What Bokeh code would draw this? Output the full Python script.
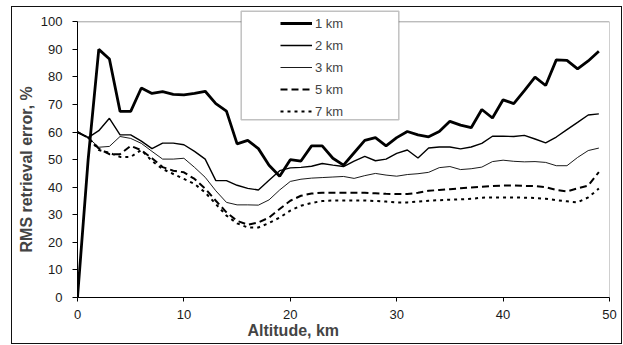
from bokeh.plotting import figure
from bokeh.models import Legend, LegendItem, BoxAnnotation, Title, FixedTicker, Range1d
from bokeh.embed import file_html
from bokeh.resources import INLINE

altitude = list(range(50))
km1 = [0, 50, 90, 86.5, 67.5, 67.5, 76, 74, 74.7, 73.7,
       73.5, 74, 74.8, 70.3, 67.6, 55.7, 57, 54, 48, 44,
       50, 49.5, 55, 55, 50.5, 48, 52.5, 57, 58, 55,
       58, 60.2, 59, 58.3, 60.2, 63.9, 62.5, 61.6, 68.2, 65.1,
       71.7, 70.3, 75, 79.9, 76.9, 86.2, 86, 82.9, 85.8, 89.3]
km2 = [60, 58, 60.5, 65, 59, 59, 56.7, 54, 56, 56,
       55.4, 53, 50.2, 42.4, 42.4, 40.7, 39.6, 39, 42.5, 46,
       47, 47.2, 47.6, 48.6, 48, 47.5, 49.5, 51.2, 49.6, 50.2,
       52.3, 53.5, 50.6, 54.2, 54.6, 54.6, 53.9, 54.6, 55.9, 58.5,
       58.5, 58.4, 58.8, 57.5, 56.1, 58.2, 60.9, 63.5, 66.2, 66.6]
km3 = [60, 58, 54.5, 54.8, 58.4, 57.7, 55.9, 53, 50.2, 50.2,
       50.5, 47.2, 43.6, 38.7, 34.5, 33.6, 33.6, 33.5, 35.4, 39,
       42.1, 42.9, 43.3, 43.5, 43.7, 43.9, 43.2, 44.2, 45, 44.4,
       44, 44.6, 44.9, 45.4, 47.1, 47.5, 46.4, 46.7, 47.3, 49.3,
       49.8, 49.4, 49.2, 49.3, 49, 47.8, 47.8, 50.8, 53.3, 54.2]
km5 = [60, 58, 54, 52, 52, 55, 53.4, 50.5, 47.3, 46,
       45.4, 43, 39.5, 35.1, 30.9, 27.8, 26.4, 27.2, 29, 32.1,
       35.1, 36.9, 37.7, 38, 38, 38, 38, 38, 37.8, 37.6,
       37.5, 37.5, 38, 38.7, 39, 39.3, 39.6, 39.9, 40.2, 40.4,
       40.6, 40.6, 40.5, 40.4, 40, 39, 38.5, 39.6, 40.6, 45.5]
km7 = [60, 58, 53.5, 52.5, 51, 51, 53.5, 49.5, 46.6, 44.8,
       43, 41.2, 38.1, 33.9, 29.7, 26.9, 25.4, 25.4, 27, 29,
       31.5, 33.3, 34.3, 35, 35.2, 35.2, 35.2, 35.2, 35, 34.8,
       34.5, 34.5, 34.8, 35.1, 35.3, 35.5, 35.6, 35.8, 36.2, 36.3,
       36.3, 36.3, 36.2, 36.1, 35.8, 35.3, 34.9, 34.5, 36.3, 39.5]
series_labels = ["1 km", "2 km", "3 km", "5 km", "7 km"]
x_ticks = [0, 10, 20, 30, 40, 50]
y_ticks = [0, 10, 20, 30, 40, 50, 60, 70, 80, 90, 100]
x_title = "Altitude, km"
y_title = "RMS retrieval error, %"

FONT = "Liberation Sans"
Y_TOP = y_ticks[-1] * 289 / 275.7   # frame reaches above 100 so the legend box fits

p = figure(width=609, height=336, output_backend="svg", toolbar_location=None,
           x_range=Range1d(x_ticks[0], x_ticks[-1]), y_range=Range1d(y_ticks[0], Y_TOP),
           min_border_left=65, min_border_right=12, min_border_top=1, min_border_bottom=46,
           margin=(7, 2, 2, 12),
           styles={"outline": "1.5px solid #111111", "outline-offset": "0px"})
p.background_fill_color = "white"
p.border_fill_color = "white"
p.outline_line_color = None
p.xgrid.visible = False
p.ygrid.visible = False

for ax, ticks in ((p.xaxis, x_ticks), (p.yaxis, y_ticks)):
    ax.ticker = FixedTicker(ticks=ticks)
    ax.bounds = (ticks[0], ticks[-1])
    ax.minor_tick_line_color = None
    ax.major_tick_in = 0
    ax.axis_line_color = "black"
    ax.major_tick_line_color = "black"
    ax.major_label_text_font = FONT
    ax.major_label_text_font_size = "13px"
    ax.major_label_text_color = "#1a1a1a"
p.xaxis.major_tick_out = 4
p.yaxis.major_tick_out = 5
p.xaxis.major_label_standoff = 8
p.yaxis.major_label_standoff = 10

# gray plot-area border (top and right)
p.segment(x0=[x_ticks[0], x_ticks[-1]], y0=[y_ticks[-1], y_ticks[0]],
          x1=[x_ticks[-1], x_ticks[-1]], y1=[y_ticks[-1], y_ticks[-1]],
          line_color="#a0a0a0", line_width=1)

styles = [
    (km1, dict(line_width=2.8, line_color="black")),
    (km2, dict(line_width=1.4, line_color="black")),
    (km3, dict(line_width=0.9, line_color="black")),
    (km5, dict(line_width=2, line_color="black", line_dash="7 4")),
    (km7, dict(line_width=2, line_color="black", line_dash="3 4")),
]
renderers = []
for vals, st in styles:
    renderers.append(p.line(altitude, vals, **st))

# legend frame
box = BoxAnnotation(left=163.7, right=321.3, bottom=177.7, top=286.3,
                    left_units="screen", right_units="screen",
                    bottom_units="screen", top_units="screen",
                    fill_color="white", fill_alpha=1,
                    line_color="#333333", line_width=1.5, level="annotation")
p.add_layout(box)

legend = Legend(items=[LegendItem(label=lab, renderers=[r]) for lab, r in zip(series_labels, renderers)],
                location=(203, 176.7), padding=0, spacing=4,
                glyph_width=32, glyph_height=18, label_height=18, label_standoff=3,
                label_text_font=FONT, label_text_font_size="13px",
                border_line_alpha=0, background_fill_alpha=0)
p.add_layout(legend)

p.add_layout(Title(text=x_title, align="left", offset=170, vertical_align="top", standoff=0,
                   text_font=FONT, text_font_size="16px", text_font_style="bold"), "below")
p.add_layout(Title(text=y_title, align="left", offset=45, vertical_align="top", standoff=2,
                   text_font=FONT, text_font_size="16px", text_font_style="bold"), "left")

open("out.html", "w").write(file_html(p, INLINE))
